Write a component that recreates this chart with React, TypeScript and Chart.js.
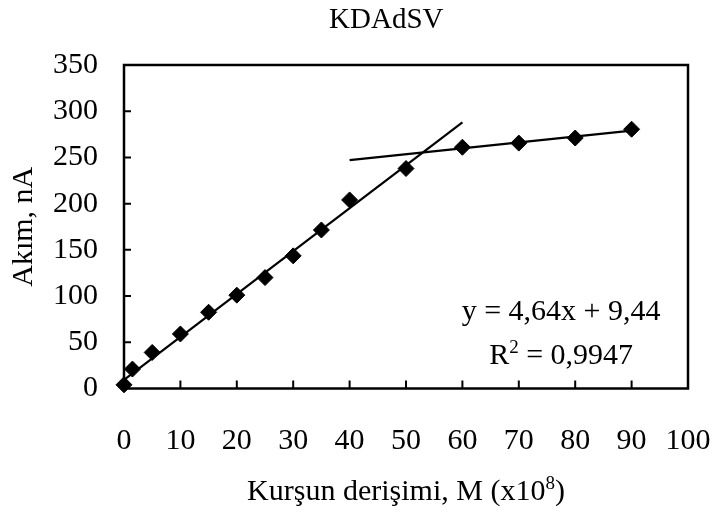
import React, { useEffect, useRef } from 'react';
import { Chart, registerables } from 'chart.js';

Chart.register(...registerables);

// Lead concentration (x10^8 M) and measured peak current (nA)
const concentrations = [0, 1.5, 5, 10, 15, 20, 25, 30, 35, 40, 50, 60, 70, 80, 90];
const currents = [4, 21, 39, 59, 82.5, 101, 120, 143.5, 171.5, 204, 238, 261, 265.5, 271, 280.5];

// Linear calibration range fit
const fitSlope = 4.64;
const fitIntercept = 9.44;
const fitR2 = 0.9947;
const fitFrom = 0;
const fitTo = 60;

// Saturation (plateau) line
const plateauSlope = 0.64;
const plateauIntercept = 221.5;
const plateauFrom = 40;
const plateauTo = 90;

const chartTitle = 'KDAdSV';
const xTitle = ['Kurşun derişimi, M (x10', '8', ')'];
const yTitle = 'Akım, nA';

const xMin = 0;
const xMax = 100;
const xStep = 10;
const yMin = 0;
const yMax = 350;
const yStep = 50;

const FAMILY = '"Liberation Serif", "Times New Roman", Times, serif';
const FONT_SIZE = 30;
const TITLE_SIZE = 29;
const SUP_SIZE = 19;

const comma = (v: number, d: number) => v.toFixed(d).replace('.', ',');

type Part = { text: string; sup?: boolean };

// Draws a line of text with optional superscript pieces, centred on cx
function drawRich(ctx: CanvasRenderingContext2D, parts: Part[], cx: number, baseline: number, size = FONT_SIZE) {
  const main = `${size}px ${FAMILY}`;
  const small = `${SUP_SIZE}px ${FAMILY}`;
  let total = 0;
  const widths = parts.map((p) => {
    ctx.font = p.sup ? small : main;
    const w = ctx.measureText(p.text).width;
    total += w;
    return w;
  });
  let x = cx - total / 2;
  ctx.textAlign = 'left';
  ctx.textBaseline = 'alphabetic';
  parts.forEach((p, i) => {
    ctx.font = p.sup ? small : main;
    ctx.fillText(p.text, x, p.sup ? baseline - 11 : baseline);
    x += widths[i];
  });
}

const framePlugin = {
  id: 'frameAndLabels',
  beforeDatasetsDraw(chart: any) {
    const { ctx, chartArea: a, scales } = chart;
    const xs = scales.x;
    const ys = scales.y;
    ctx.save();
    ctx.strokeStyle = '#000';
    ctx.lineWidth = 2.5;
    ctx.strokeRect(a.left, a.top, a.right - a.left, a.bottom - a.top);
    ctx.lineWidth = 2;
    ctx.beginPath();
    xs.ticks.forEach((t: any) => {
      if (t.value > xs.min && t.value < xs.max) {
        const px = xs.getPixelForValue(t.value);
        ctx.moveTo(px, a.bottom);
        ctx.lineTo(px, a.bottom - 8);
      }
    });
    ys.ticks.forEach((t: any) => {
      if (t.value > ys.min && t.value < ys.max) {
        const py = ys.getPixelForValue(t.value);
        ctx.moveTo(a.left, py);
        ctx.lineTo(a.left + 7, py);
      }
    });
    ctx.stroke();
    ctx.restore();
  },
  afterDraw(chart: any) {
    const { ctx, chartArea: a, scales } = chart;
    const xs = scales.x;
    const ys = scales.y;
    ctx.save();
    ctx.fillStyle = '#000';

    // chart title
    drawRich(ctx, [{ text: chartTitle }], a.left + (a.right - a.left) * 0.465, 28, TITLE_SIZE);

    // x axis title with superscript exponent
    drawRich(
      ctx,
      [{ text: xTitle[0] }, { text: xTitle[1], sup: true }, { text: xTitle[2] }],
      (a.left + a.right) / 2,
      500
    );

    // regression equation
    const ex = xs.getPixelForValue(77.5);
    drawRich(ctx, [{ text: `y = ${comma(fitSlope, 2)}x + ${comma(fitIntercept, 2)}` }], ex, ys.getPixelForValue(74));
    drawRich(ctx, [{ text: 'R' }, { text: '2', sup: true }, { text: ` = ${comma(fitR2, 4)}` }], ex, ys.getPixelForValue(26));
    ctx.restore();
  },
};

export default function App() {
  const ref = useRef<HTMLCanvasElement>(null);

  useEffect(() => {
    document.body.style.margin = '0';
    const font = { family: FAMILY, size: FONT_SIZE };
    const chart = new Chart(ref.current!, {
      type: 'scatter',
      data: {
        datasets: [
          {
            label: 'Ölçüm',
            data: concentrations.map((c, i) => ({ x: c, y: currents[i] })),
            pointStyle: 'rectRot',
            pointRadius: 8,
            backgroundColor: '#000',
            borderColor: '#000',
            borderWidth: 1,
            showLine: false,
            clip: false,
            order: 0,
          },
          {
            label: 'Doğrusal aralık',
            data: [
              { x: fitFrom, y: fitSlope * fitFrom + fitIntercept },
              { x: fitTo, y: fitSlope * fitTo + fitIntercept },
            ],
            showLine: true,
            pointRadius: 0,
            borderColor: '#000',
            borderWidth: 2.2,
            clip: false,
            order: 1,
          },
          {
            label: 'Doygunluk',
            data: [
              { x: plateauFrom, y: plateauSlope * plateauFrom + plateauIntercept },
              { x: plateauTo, y: plateauSlope * plateauTo + plateauIntercept },
            ],
            showLine: true,
            pointRadius: 0,
            borderColor: '#000',
            borderWidth: 2.2,
            clip: false,
            order: 1,
          },
        ],
      },
      options: {
        animation: false,
        responsive: true,
        maintainAspectRatio: false,
        layout: { autoPadding: false, padding: { left: 0, right: 24, top: 65, bottom: 0 } },
        plugins: {
          legend: { display: false },
          tooltip: { enabled: false },
          title: { display: false },
        },
        scales: {
          x: {
            type: 'linear',
            min: xMin,
            max: xMax,
            grid: { display: false },
            border: { display: false },
            ticks: { stepSize: xStep, color: '#000', font, padding: 27, maxRotation: 0 },
            afterFit: (s: any) => {
              s.height = 124.5;
              s.paddingLeft = 0;
              s.paddingRight = 0;
            },
          },
          y: {
            type: 'linear',
            min: yMin,
            max: yMax,
            grid: { display: false },
            border: { display: false },
            ticks: { stepSize: yStep, color: '#000', font, padding: 18 },
            title: { display: true, text: yTitle, color: '#000', font, padding: { top: 6, bottom: 0 } },
            afterFit: (s: any) => {
              s.width = 124;
              s.paddingTop = 0;
              s.paddingBottom = 0;
            },
          },
        },
      },
      plugins: [framePlugin],
    });
    return () => chart.destroy();
  }, []);

  return (
    <div style={{ position: 'relative', width: 712, height: 513 }}>
      <canvas ref={ref} />
    </div>
  );
}
